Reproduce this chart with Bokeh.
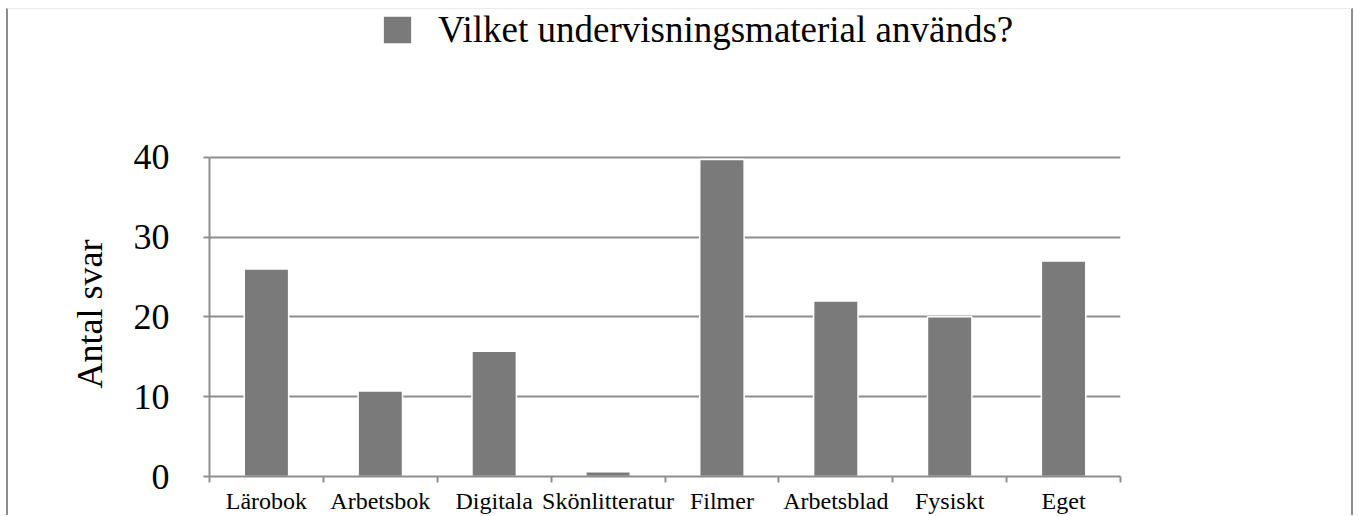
from bokeh.plotting import figure
from bokeh.models import Range1d, FixedTicker, Legend, LegendItem, ColumnDataSource, Title
from bokeh.embed import file_html
from bokeh.resources import INLINE

# ---- data ----
categories = ["Lärobok", "Arbetsbok", "Digitala", "Skönlitteratur", "Filmer",
              "Arbetsblad", "Fysiskt", "Eget"]
values = [26, 10.7, 15.7, 0.6, 39.7, 22, 20, 27]
y_ticks = [0, 10, 20, 30, 40]
series_name = "Vilket undervisningsmaterial används?"
y_label = "Antal svar"

# ---- style / layout ----
FONT = "Liberation Serif"
BAR = "#7a7a7a"
LINE = "#8e8e8e"

W, H = 1347, 507
FL, FR, FB = 201, 1112, 468       # frame edges in canvas px
GRID_TOP = 148                    # canvas px of the top gridline (value 40)
px_per_unit = (FB - GRID_TOP) / (y_ticks[-1] - y_ticks[0])
y_top = y_ticks[0] + FB / px_per_unit   # frame reaches the top of the canvas

n = len(categories)
centers = [i + 0.5 for i in range(n)]
bounds = list(range(n + 1))

p = figure(width=W, height=H, output_backend="svg", toolbar_location=None,
           x_range=Range1d(0, n), y_range=Range1d(y_ticks[0], y_top),
           min_border_left=FL, min_border_right=W - FR,
           min_border_top=0, min_border_bottom=H - FB)
p.outline_line_color = None
p.background_fill_color = "white"
p.border_fill_color = "white"
p.styles = {"margin-left": "6px", "margin-top": "8px",
            "border-left": "2px solid #8c8c8c", "border-right": "2px solid #8c8c8c",
            "border-top": "1px solid #ececec"}

src = ColumnDataSource(dict(x=centers, top=values, cat=categories))
r = p.vbar(x="x", top="top", bottom=0, width=0.39, source=src,
           fill_color=BAR, line_color="white", line_width=1.5)

# x axis: labels at centres, tick marks at category boundaries
xa = p.xaxis[0]
xa.ticker = FixedTicker(ticks=centers, minor_ticks=bounds)
xa.major_label_overrides = {c: name for c, name in zip(centers, categories)}
xa.major_tick_out = 0
xa.major_tick_in = 0
xa.minor_tick_out = 6
xa.minor_tick_in = 0
xa.minor_tick_line_color = LINE
xa.minor_tick_line_width = 2
xa.axis_line_color = LINE
xa.axis_line_width = 2
xa.major_label_text_font = FONT
xa.major_label_text_font_size = "24px"
xa.major_label_text_color = "black"
xa.major_label_standoff = 5

ya = p.yaxis[0]
ya.ticker = FixedTicker(ticks=y_ticks)
ya.bounds = (y_ticks[0], y_ticks[-1])
ya.minor_tick_out = 0
ya.minor_tick_in = 0
ya.major_tick_out = 6
ya.major_tick_in = 0
ya.major_tick_line_color = LINE
ya.major_tick_line_width = 2
ya.axis_line_color = LINE
ya.axis_line_width = 2
ya.major_label_text_font = FONT
ya.major_label_text_font_size = "36px"
ya.major_label_text_color = "black"
ya.major_label_standoff = 34

# y-axis title, placed along the 0..40 part of the axis
ytitle = Title(text=y_label, align="left", vertical_align="bottom",
               offset=88, standoff=42,
               text_font=FONT, text_font_size="36px",
               text_font_style="normal", text_color="black")
p.add_layout(ytitle, "left")

p.xgrid.visible = False
p.ygrid.ticker = FixedTicker(ticks=y_ticks)
p.ygrid.grid_line_color = LINE
p.ygrid.grid_line_width = 2

# legend (series name) at the top, like the reference's header
legend = Legend(items=[LegendItem(label=series_name, renderers=[r])],
                location=(170, 425),
                orientation="horizontal",
                glyph_width=36, glyph_height=35, label_standoff=23,
                label_text_font=FONT, label_text_font_size="37px",
                label_text_color="black",
                padding=0, margin=0, spacing=0,
                border_line_color=None, background_fill_alpha=0)
p.add_layout(legend, "center")

open("out.html", "w").write(file_html(p, INLINE))
